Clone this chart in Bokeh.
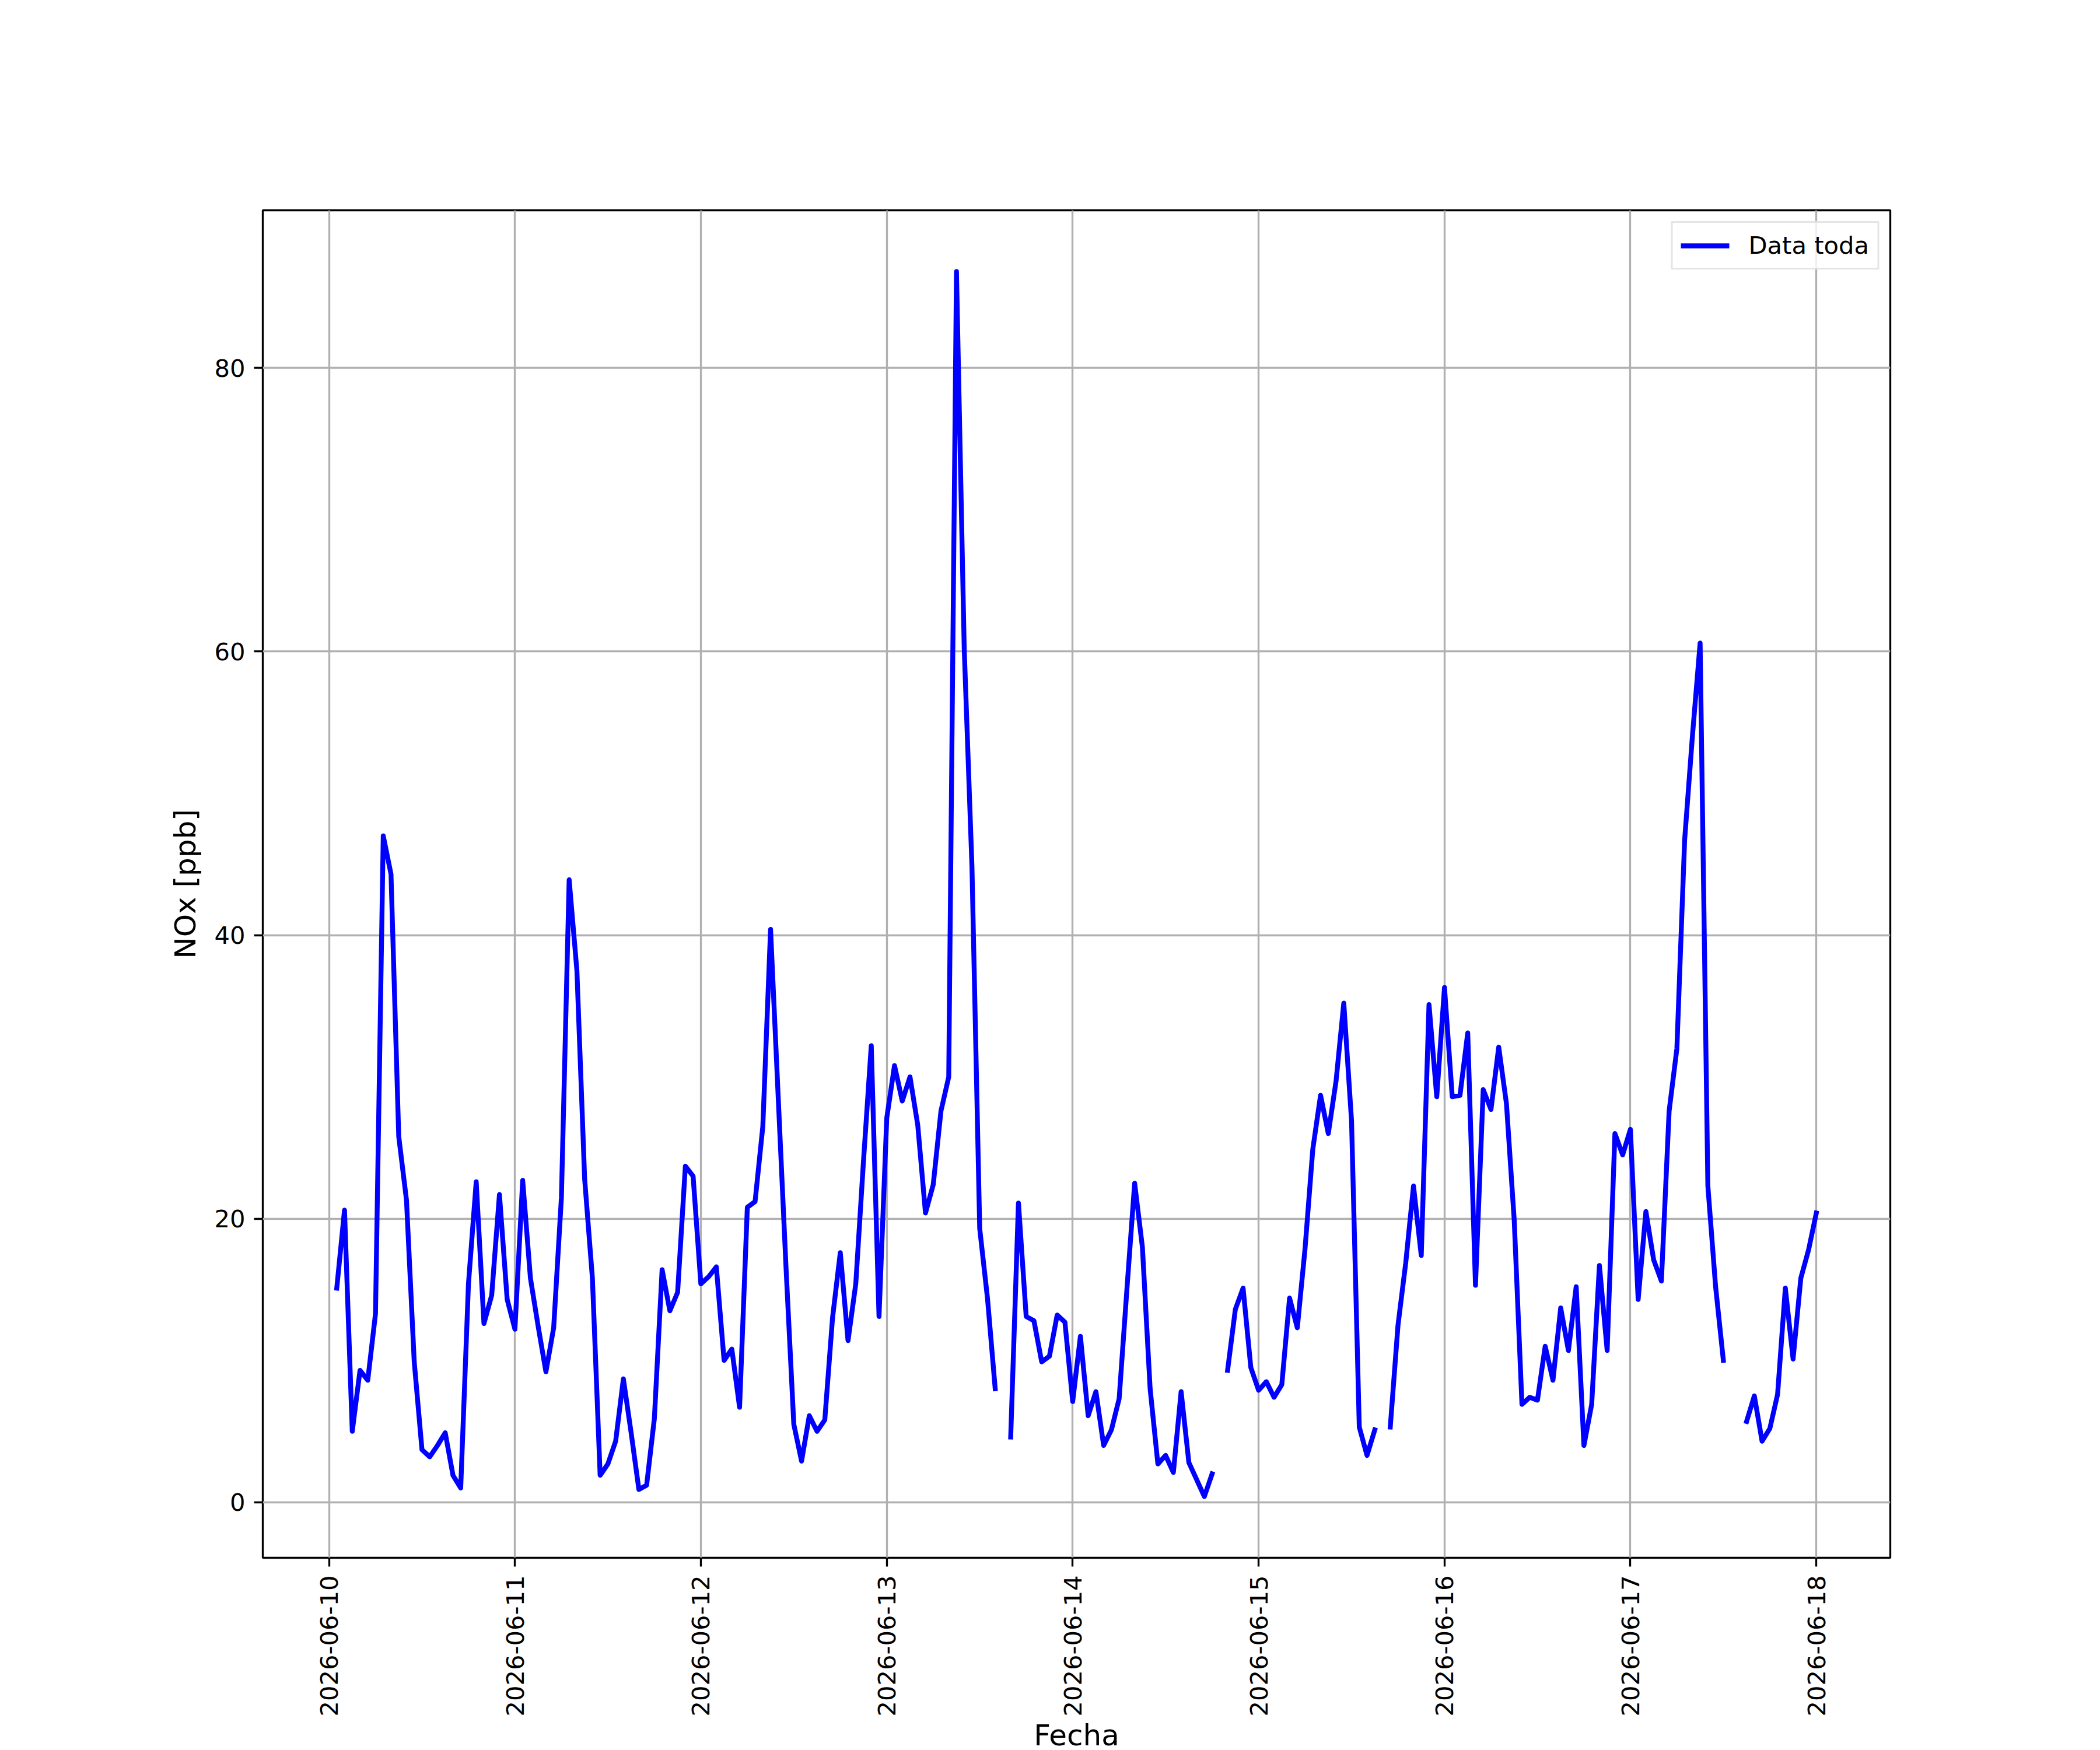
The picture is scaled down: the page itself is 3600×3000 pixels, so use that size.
import math
import numpy as np
import pandas as pd
from bokeh.plotting import figure
from bokeh.models import ColumnDataSource, Range1d, FixedTicker, DatetimeTickFormatter
from bokeh.embed import file_html
from bokeh.resources import INLINE

nan = float("nan")

# hourly NOx [ppb], starting 2026-06-10 01:00
day10 = [15.1, 20.6, 5.0, 9.3, 8.6, 13.3, 47.0, 44.3, 25.8, 21.3, 9.9, 3.7,
         3.2, 4.0, 4.9, 1.9, 1.0, 15.4, 22.6, 12.6, 14.6, 21.7, 14.3]
day11 = [12.2, 22.7, 15.8, 12.4, 9.2, 12.3, 21.5, 43.9, 37.5, 22.8, 15.8, 1.9,
         2.7, 4.3, 8.7, 4.9, 0.9, 1.2, 5.9, 16.4, 13.5, 14.8, 23.7, 23.0]
day12 = [15.4, 15.9, 16.6, 10.0, 10.8, 6.7, 20.8, 21.2, 26.5, 40.4, 28.4, 16.5,
         5.5, 2.9, 6.1, 5.0, 5.8, 13.0, 17.6, 11.4, 15.4, 24.1, 32.2, 13.1]
day13 = [27.1, 30.8, 28.3, 30.0, 26.6, 20.4, 22.4, 27.6, 30.0, 86.8, 60.2, 44.8,
         19.3, 14.4, 8.0, nan, 4.6, 21.1, 13.1, 12.8, 9.9, 10.3, 13.2, 12.7]
day14 = [7.1, 11.7, 6.1, 7.8, 4.0, 5.1, 7.3, 15.0, 22.5, 18.0, 8.0, 2.7,
         3.3, 2.1, 7.8, 2.8, 1.6, 0.4, 2.0, nan, 9.3, 13.6, 15.1, 9.5]
day15 = [7.9, 8.5, 7.4, 8.3, 14.4, 12.3, 17.9, 24.9, 28.7, 26.0, 29.7, 35.2,
         26.9, 5.3, 3.3, 5.1, nan, 5.3, 12.5, 16.9, 22.3, 17.4, 35.1, 28.6]
day16 = [36.3, 28.6, 28.7, 33.1, 15.3, 29.1, 27.7, 32.1, 28.1, 19.9, 6.9, 7.4,
         7.2, 11.0, 8.6, 13.7, 10.7, 15.2, 4.0, 6.9, 16.7, 10.7, 26.0, 24.5]
day17 = [26.3, 14.3, 20.5, 17.1, 15.6, 27.6, 32.0, 46.7, 54.0, 60.6, 22.3, 15.2,
         10.0, nan, nan, 5.7, 7.5, 4.3, 5.2, 7.6, 15.1, 10.1, 15.8, 17.8]
day18 = [20.4]

values = day10 + day11 + day12 + day13 + day14 + day15 + day16 + day17 + day18
times = pd.date_range("2026-06-10 01:00", periods=len(values), freq="h")

tick_dates = ["2026-06-10", "2026-06-11", "2026-06-12", "2026-06-13", "2026-06-14",
              "2026-06-15", "2026-06-16", "2026-06-17", "2026-06-18"]
y_ticks = [0, 20, 40, 60, 80]

legend_text = "Data toda"
x_label = "Fecha"
y_label = "NOx [ppb]"

# matplotlib-like 5% autoscale margins
vals = np.array(values, dtype=float)
vmin, vmax = np.nanmin(vals), np.nanmax(vals)
ypad = 0.05 * (vmax - vmin)
t0, t1 = times[0], times[-1]
xpad = 0.05 * (t1 - t0)

src = ColumnDataSource(dict(t=times, v=vals))

LW = 3.33
p = figure(x_axis_type="datetime", frame_width=2790, frame_height=2310,
           min_border_left=450, min_border_right=360, min_border_top=360,
           min_border_bottom=330, output_backend="svg", toolbar_location=None,
           x_range=Range1d((t0 - xpad).to_pydatetime(), (t1 + xpad).to_pydatetime()),
           y_range=Range1d(vmin - ypad, vmax + ypad))
p.background_fill_color = "white"
p.border_fill_color = "white"
p.outline_line_color = "black"
p.outline_line_width = LW

p.line(x="t", y="v", source=src, line_color="blue", line_width=8.33,
       line_join="round", line_cap="square", legend_label=legend_text)

tick_ms = [pd.Timestamp(d).value / 1e6 for d in tick_dates]
p.xaxis.ticker = FixedTicker(ticks=tick_ms)
fmt = "%Y-%m-%d"
p.xaxis.formatter = DatetimeTickFormatter(
    microseconds=fmt, milliseconds=fmt, seconds=fmt, minsec=fmt, minutes=fmt,
    hourmin=fmt, hours=fmt, days=fmt, months=fmt, years=fmt,
    strip_leading_zeros=False)
p.xaxis.major_label_orientation = math.pi / 2
p.yaxis.ticker = FixedTicker(ticks=y_ticks)

for ax in (p.xaxis[0], p.yaxis[0]):
    ax.axis_line_color = None
    ax.major_tick_line_color = "black"
    ax.major_tick_line_width = LW
    ax.major_tick_out = 15
    ax.major_tick_in = 0
    ax.minor_tick_line_color = None
    ax.major_label_text_font = "DejaVu Sans"
    ax.major_label_text_font_size = "41.67px"
    ax.major_label_text_color = "black"
    ax.major_label_standoff = 15
    ax.axis_label_text_font = "DejaVu Sans"
    ax.axis_label_text_font_size = "50px"
    ax.axis_label_text_font_style = "normal"
    ax.axis_label_text_color = "black"

p.yaxis.axis_label = y_label
p.yaxis.axis_label_standoff = 17
p.xaxis.axis_label = x_label
p.xaxis.axis_label_standoff = 0

p.grid.grid_line_color = "#b0b0b0"
p.grid.grid_line_width = LW

lg = p.legend[0]
lg.location = "top_right"
lg.margin = 19
lg.padding = 14
lg.spacing = 0
lg.glyph_width = 83
lg.glyph_height = 42
lg.label_height = 42
lg.label_standoff = 33
lg.label_text_font = "DejaVu Sans"
lg.label_text_font_size = "41.67px"
lg.label_text_color = "black"
lg.border_line_color = "#cccccc"
lg.border_line_width = LW
lg.background_fill_color = "white"
lg.background_fill_alpha = 0.8

open("out.html", "w").write(file_html(p, INLINE))
